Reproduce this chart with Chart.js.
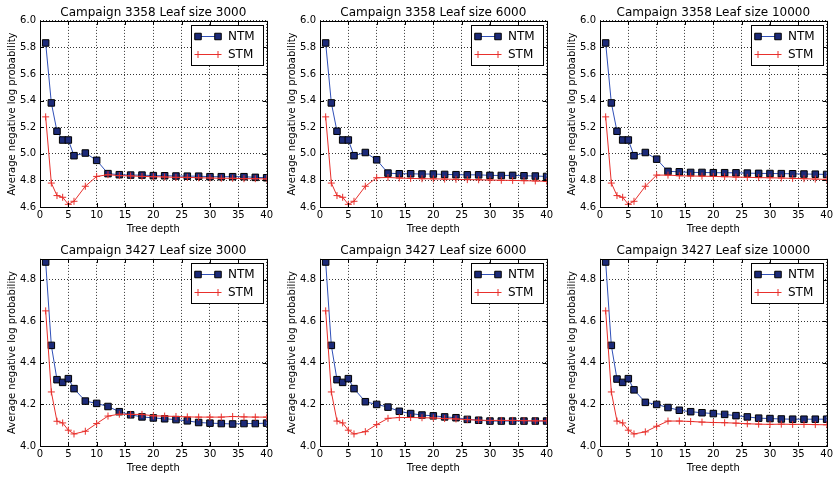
<!DOCTYPE html>
<html>
<head>
<meta charset="utf-8">
<script src="https://cdn.jsdelivr.net/npm/chart.js"></script>
<style>
  body { margin: 0; background: #fff; }
  #wrap { position: relative; width: 835px; height: 477px; }
  #wrap canvas { position: absolute; }
</style>
</head>
<body>
<div id="wrap"></div>

<script>
    // tree depths on the x axis
    const depth = [1, 2, 3, 4, 5, 6, 8, 10, 12, 14, 16, 18, 20, 22, 24, 26, 28, 30, 32, 34, 36, 38, 40];

    const titles = [
        'Campaign 3358 Leaf size 3000', 'Campaign 3358 Leaf size 6000', 'Campaign 3358 Leaf size 10000',
        'Campaign 3427 Leaf size 3000', 'Campaign 3427 Leaf size 6000', 'Campaign 3427 Leaf size 10000'
    ];

    // campaign 3358
    const ntm3358_3000 = [5.834, 5.383, 5.170, 5.104, 5.104, 4.986, 5.006, 4.951, 4.851, 4.843, 4.840, 4.840, 4.836, 4.835, 4.833, 4.832, 4.832, 4.828, 4.828, 4.828, 4.828, 4.823, 4.820];
    const stm3358_3000 = [5.278, 4.780, 4.686, 4.673, 4.620, 4.643, 4.756, 4.830, 4.843, 4.836, 4.834, 4.830, 4.828, 4.826, 4.823, 4.823, 4.820, 4.818, 4.816, 4.816, 4.813, 4.813, 4.811];
    const ntm3358_6000 = [5.834, 5.383, 5.170, 5.104, 5.104, 4.986, 5.010, 4.955, 4.855, 4.850, 4.850, 4.848, 4.848, 4.845, 4.843, 4.842, 4.842, 4.838, 4.837, 4.838, 4.835, 4.833, 4.830];
    const stm3358_6000 = [5.278, 4.780, 4.686, 4.673, 4.620, 4.643, 4.756, 4.820, 4.822, 4.818, 4.815, 4.813, 4.812, 4.810, 4.808, 4.806, 4.805, 4.803, 4.801, 4.800, 4.798, 4.796, 4.793];
    const ntm3358_10000 = [5.834, 5.383, 5.170, 5.104, 5.104, 4.986, 5.010, 4.960, 4.868, 4.865, 4.860, 4.860, 4.858, 4.858, 4.857, 4.855, 4.853, 4.852, 4.851, 4.850, 4.848, 4.847, 4.845];
    const stm3358_10000 = [5.278, 4.780, 4.686, 4.673, 4.620, 4.643, 4.756, 4.840, 4.840, 4.835, 4.833, 4.832, 4.830, 4.828, 4.825, 4.823, 4.821, 4.820, 4.818, 4.815, 4.813, 4.810, 4.808];

    // campaign 3427
    const ntm3427_3000 = [4.885, 4.484, 4.319, 4.306, 4.324, 4.276, 4.216, 4.205, 4.190, 4.165, 4.150, 4.140, 4.135, 4.131, 4.127, 4.121, 4.113, 4.110, 4.108, 4.106, 4.108, 4.108, 4.110];
    const stm3427_3000 = [4.650, 4.260, 4.119, 4.111, 4.076, 4.058, 4.071, 4.108, 4.144, 4.153, 4.152, 4.152, 4.145, 4.144, 4.142, 4.140, 4.139, 4.139, 4.139, 4.142, 4.140, 4.139, 4.139];
    const ntm3427_6000 = [4.885, 4.484, 4.319, 4.306, 4.324, 4.276, 4.213, 4.200, 4.187, 4.167, 4.156, 4.149, 4.145, 4.140, 4.136, 4.128, 4.124, 4.120, 4.120, 4.120, 4.120, 4.120, 4.120];
    const stm3427_6000 = [4.650, 4.260, 4.120, 4.111, 4.076, 4.058, 4.069, 4.103, 4.133, 4.137, 4.137, 4.136, 4.135, 4.132, 4.130, 4.127, 4.124, 4.123, 4.123, 4.123, 4.122, 4.121, 4.121];
    const ntm3427_10000 = [4.885, 4.484, 4.322, 4.306, 4.324, 4.270, 4.210, 4.200, 4.185, 4.172, 4.165, 4.160, 4.156, 4.152, 4.146, 4.140, 4.134, 4.132, 4.130, 4.129, 4.129, 4.129, 4.129];
    const stm3427_10000 = [4.650, 4.260, 4.120, 4.111, 4.076, 4.058, 4.068, 4.095, 4.120, 4.120, 4.118, 4.115, 4.113, 4.112, 4.110, 4.107, 4.105, 4.104, 4.105, 4.104, 4.104, 4.103, 4.102];

    const ntmSeries = [ntm3358_3000, ntm3358_6000, ntm3358_10000, ntm3427_3000, ntm3427_6000, ntm3427_10000];
    const stmSeries = [stm3358_3000, stm3358_6000, stm3358_10000, stm3427_3000, stm3427_6000, stm3427_10000];

    const yRanges = [[4.6, 6.0], [4.0, 4.9]];

    const BLUE = '#3050b8';
    const NAVY = '#1c2a78';
    const RED = '#e8302c';

    Chart.defaults.font.family = "'DejaVu Sans', sans-serif";
    Chart.defaults.color = '#000';

    // frame + inward ticks, matplotlib style
    const frameTicks = {
        id: 'frameTicks',
        afterDatasetsDraw(chart) {
            const {ctx, chartArea: a, scales} = chart;
            ctx.save();
            ctx.strokeStyle = '#000';
            ctx.lineWidth = 1;
            ctx.beginPath();
            scales.x.ticks.forEach(t => {
                const px = Math.round(scales.x.getPixelForValue(t.value)) + 0.5;
                ctx.moveTo(px, a.bottom); ctx.lineTo(px, a.bottom - 4);
                ctx.moveTo(px, a.top); ctx.lineTo(px, a.top + 4);
            });
            scales.y.ticks.forEach(t => {
                const py = Math.round(scales.y.getPixelForValue(t.value)) + 0.5;
                ctx.moveTo(a.left, py); ctx.lineTo(a.left + 4, py);
                ctx.moveTo(a.right, py); ctx.lineTo(a.right - 4, py);
            });
            ctx.stroke();
            ctx.strokeRect(Math.round(a.left) + 0.5, Math.round(a.top) + 0.5,
                Math.round(a.right - a.left), Math.round(a.bottom - a.top));
            ctx.restore();
        }
    };

    // boxed legend inside the upper right corner
    const boxLegend = {
        id: 'boxLegend',
        afterDraw(chart) {
            const {ctx, chartArea: a} = chart;
            const w = 72, h = 40;
            const x0 = Math.round(a.right) - 4 - w, y0 = Math.round(a.top) + 4;
            ctx.save();
            ctx.fillStyle = '#fff';
            ctx.fillRect(x0, y0, w, h);
            ctx.strokeStyle = '#000';
            ctx.lineWidth = 1;
            ctx.strokeRect(x0 + 0.5, y0 + 0.5, w, h);
            chart.data.datasets.forEach((ds, i) => {
                const y = y0 + 11.5 + i * 18;
                ctx.strokeStyle = ds.borderColor;
                ctx.lineWidth = ds.borderWidth;
                ctx.beginPath();
                ctx.moveTo(x0 + 7, y); ctx.lineTo(x0 + 27, y);
                ctx.stroke();
                ctx.fillStyle = ds.pointBackgroundColor;
                ctx.strokeStyle = ds.pointBorderColor;
                ctx.lineWidth = ds.pointBorderWidth;
                [x0 + 7, x0 + 27].forEach(px => {
                    Chart.helpers.drawPoint(ctx, {pointStyle: ds.pointStyle, radius: ds.pointRadius, rotation: 0, borderWidth: ds.pointBorderWidth}, px, y);
                });
                ctx.fillStyle = '#000';
                ctx.font = "12px 'DejaVu Sans', sans-serif";
                ctx.textBaseline = 'middle';
                ctx.fillText(ds.label, x0 + 37, y + 0.5);
            });
            ctx.restore();
        }
    };

    const wrap = document.getElementById('wrap');
    const colLeft = [0, 280, 560];

    for (let p = 0; p < 6; p++) {
        const row = Math.floor(p / 3), col = p % 3;
        const cv = document.createElement('canvas');
        cv.width = 275;
        cv.height = row === 0 ? 238 : 239;
        cv.style.left = colLeft[col] + 'px';
        cv.style.top = (row === 0 ? 0 : 238) + 'px';
        wrap.appendChild(cv);

        const [ymin, ymax] = yRanges[row];

        new Chart(cv, {
            type: 'line',
            data: {
                datasets: [{
                    label: 'NTM',
                    data: depth.map((d, i) => ({x: d, y: ntmSeries[p][i]})),
                    borderColor: BLUE,
                    borderWidth: 1,
                    pointStyle: 'rect',
                    pointRadius: 4.6,
                    pointBackgroundColor: NAVY,
                    pointBorderColor: '#000',
                    pointBorderWidth: 1,
                    order: 2
                }, {
                    label: 'STM',
                    data: depth.map((d, i) => ({x: d, y: stmSeries[p][i]})),
                    borderColor: RED,
                    borderWidth: 1,
                    pointStyle: 'cross',
                    pointRadius: 3.5,
                    pointBackgroundColor: RED,
                    pointBorderColor: RED,
                    pointBorderWidth: 1,
                    order: 1
                }]
            },
            options: {
                responsive: false,
                animation: false,
                devicePixelRatio: 1,
                layout: { padding: { left: 0, right: 7, top: 0, bottom: 0 } },
                plugins: {
                    legend: { display: false },
                    tooltip: { enabled: false },
                    title: {
                        display: true,
                        fullSize: false,
                        text: titles[p],
                        font: { size: 12, weight: 'normal' },
                        padding: { top: 5.5, bottom: 1 }
                    }
                },
                scales: {
                    x: {
                        type: 'linear',
                        min: 0,
                        max: 40,
                        ticks: { stepSize: 5, padding: 2, font: { size: 10 }, maxRotation: 0 },
                        grid: { drawTicks: false, color: '#000', lineWidth: 0.8 },
                        border: { display: false, dash: [1, 2] },
                        title: { display: true, text: 'Tree depth', font: { size: 10 }, padding: { top: 0, bottom: 3 } },
                        afterFit(s) { s.height = 31; }
                    },
                    y: {
                        type: 'linear',
                        min: ymin,
                        max: ymax,
                        ticks: {
                            stepSize: 0.2,
                            padding: 4,
                            font: { size: 10 },
                            callback: v => v.toFixed(1)
                        },
                        afterBuildTicks(s) {
                            s.ticks = s.ticks.filter(t => Math.abs(t.value * 5 - Math.round(t.value * 5)) < 1e-6);
                        },
                        grid: { drawTicks: false, color: '#000', lineWidth: 0.8 },
                        border: { display: false, dash: [1, 2] },
                        title: { display: true, text: 'Average negative log probability', font: { size: 10 }, padding: { top: 6, bottom: 0 } },
                        afterFit(s) { s.width = 40; }
                    }
                }
            },
            plugins: [frameTicks, boxLegend]
        });
    }
</script>
</body>
</html>
